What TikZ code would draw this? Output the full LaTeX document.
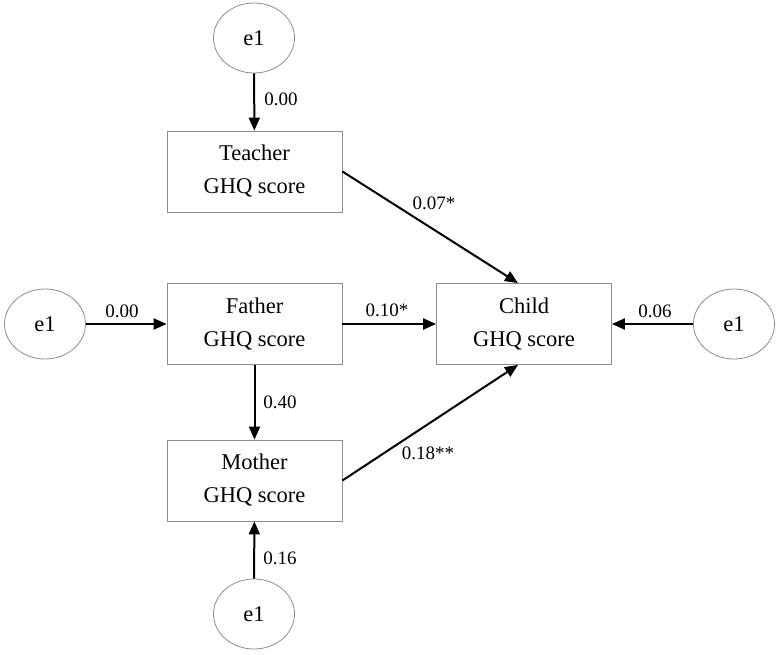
\documentclass[tikz,border=0pt]{standalone}
\usepackage{fontspec}
\setmainfont{Liberation Serif}
\usetikzlibrary{arrows.meta,shapes.geometric}
\begin{document}
\begin{tikzpicture}[x=1pt,y=-1pt,
  errnode/.style={draw=black!45,line width=0.8pt,ellipse,minimum width=81pt,minimum height=70pt,inner sep=0pt,font=\fontsize{22.5}{26}\selectfont},
  varbox/.style={draw=black!45,line width=0.8pt,rectangle,minimum width=175pt,minimum height=81pt,inner sep=0pt,align=center,font=\fontsize{22.5}{33}\selectfont},
  path/.style={draw=black,line width=2pt,-{Triangle[length=13pt,width=11pt]}},
  coef/.style={font=\fontsize{19}{22}\selectfont,inner sep=0pt}]
\useasboundingbox (0,0) rectangle (779,654);
\node[errnode] (te) at (254,38) {e1};
\node[varbox] (teacher) at (254.5,171.5) {Teacher\\GHQ score};
\node[varbox] (father) at (254.5,324) {Father\\GHQ score};
\node[varbox] (child) at (524,324) {Child\\GHQ score};
\node[varbox] (mother) at (254.5,480.5) {Mother\\GHQ score};
\node[errnode] (le) at (45,324) {e1};
\node[errnode] (re) at (734,324) {e1};
\node[errnode] (be) at (254,614) {e1};
\coordinate (ctop) at ([xshift=-6pt]child.north);
\coordinate (cbot) at ([xshift=-6pt]child.south);
\draw[path] (te) -- (teacher);
\draw[path] (le) -- (father);
\draw[path] (re) -- (child);
\draw[path] (father) -- (mother);
\draw[path] (be) -- (mother);
\draw[path] (father) -- (child);
\draw[path] (teacher.east) -- (ctop);
\draw[path] (mother.east) -- (cbot);
\node[coef] (l1) at (281,99) {0.00};
\node[coef] (l2) at (122,311) {0.00};
\node[coef] (l3) at (387,310) {0.10*};
\node[coef] (l4) at (434,203) {0.07*};
\node[coef] (l5) at (655,311) {0.06};
\node[coef] (l6) at (280,402) {0.40};
\node[coef] (l7) at (428,453) {0.18**};
\node[coef] (l8) at (280,558) {0.16};
\end{tikzpicture}
\end{document}
